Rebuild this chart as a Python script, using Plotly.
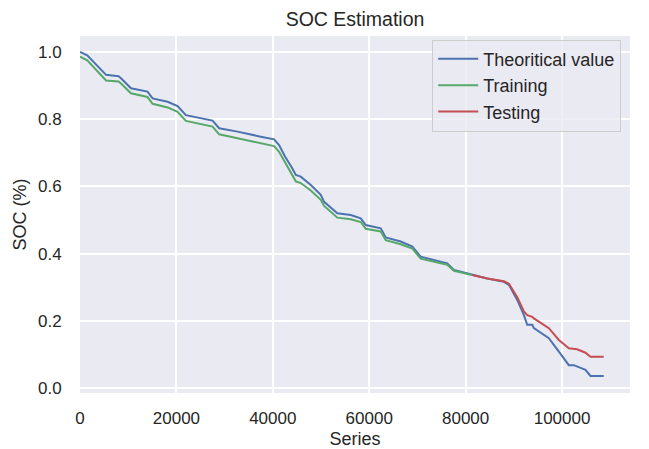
import plotly.graph_objects as go

# Theoretical value (blue)
theo_x = [0, 1500, 5400, 8000, 8500, 9500, 10570, 14000, 15070, 18180, 20250, 21970,
          25080, 27500, 28870, 32680, 37500, 40270, 41300, 42500, 44000, 44770, 45800,
          47880, 49950, 50640, 53400, 56170, 58240, 59280, 62390, 63420, 66530, 68950,
          70670, 76200, 77580, 81380, 84490, 87940, 88980, 90710, 92090, 92780, 93820,
          94160, 97270, 99340, 101410, 102450, 104870, 105900, 108660]
theo_y = [1.000, 0.990, 0.932, 0.928, 0.922, 0.907, 0.892, 0.882, 0.862, 0.852, 0.839, 0.812,
          0.803, 0.796, 0.773, 0.763, 0.748, 0.740, 0.723, 0.690, 0.655, 0.634, 0.629,
          0.604, 0.575, 0.554, 0.520, 0.515, 0.505, 0.485, 0.475, 0.448, 0.436, 0.421,
          0.391, 0.371, 0.351, 0.336, 0.326, 0.316, 0.307, 0.262, 0.217, 0.188, 0.188,
          0.178, 0.148, 0.108, 0.068, 0.068, 0.054, 0.036, 0.036]

# Training (green)
train_x = [0, 1500, 5400, 8000, 8500, 9500, 10570, 14000, 15070, 18180, 20250, 21970,
           25080, 27500, 28870, 32680, 37500, 40270, 41300, 42500, 44000, 44770, 45800,
           47880, 49950, 50640, 53400, 56170, 58240, 59280, 62390, 63420, 66530, 68950,
           70670, 76200, 77580, 81380]
train_y = [0.986, 0.975, 0.915, 0.912, 0.906, 0.892, 0.877, 0.866, 0.846, 0.835, 0.822, 0.795,
           0.785, 0.778, 0.755, 0.744, 0.728, 0.720, 0.703, 0.672, 0.636, 0.615, 0.610,
           0.588, 0.560, 0.542, 0.507, 0.502, 0.494, 0.474, 0.466, 0.440, 0.428, 0.415,
           0.385, 0.367, 0.349, 0.336]

# Testing (red)
test_x = [81380, 84490, 87940, 88980, 90710, 92090, 92780, 93820, 94160, 97270, 99340,
          101410, 103130, 104870, 105900, 108660]
test_y = [0.336, 0.326, 0.318, 0.310, 0.270, 0.228, 0.217, 0.212, 0.207, 0.178, 0.143,
          0.118, 0.115, 0.105, 0.093, 0.093]

x_ticks = [0, 20000, 40000, 60000, 80000, 100000]
y_ticks = [0.0, 0.2, 0.4, 0.6, 0.8, 1.0]

FONT = "Liberation Sans, Arial, sans-serif"
TXT = "#262626"

fig = go.Figure()
fig.add_trace(go.Scatter(x=theo_x, y=theo_y, mode="lines", name="Theoritical value",
                         line=dict(color="#4C72B0", width=2)))
fig.add_trace(go.Scatter(x=train_x, y=train_y, mode="lines", name="Training",
                         line=dict(color="#55A868", width=2)))
fig.add_trace(go.Scatter(x=test_x, y=test_y, mode="lines", name="Testing",
                         line=dict(color="#C44E52", width=2)))

# page body has an 8px margin, so the figure is 8px smaller and margins shifted
fig.update_layout(
    width=641, height=441,
    margin=dict(l=72, r=19, t=28, b=56),
    paper_bgcolor="white",
    plot_bgcolor="#EAEAF2",
    font=dict(family=FONT, size=17, color=TXT),
    title=dict(text="SOC Estimation", x=0.5, xref="paper", y=1 - 4 / 441,
               yref="container", xanchor="center", yanchor="top",
               pad=dict(t=0, b=0, l=0, r=0),
               font=dict(size=19.5, color=TXT), automargin=False),
    showlegend=True,
    legend=dict(x=0.984, y=0.99, xanchor="right", yanchor="top",
                bgcolor="rgba(234,234,242,0.8)", bordercolor="#CCCCCC", borderwidth=1,
                itemwidth=40,
                font=dict(size=18, color=TXT)),
    xaxis=dict(range=[0, 114100], tickvals=x_ticks, ticktext=[str(v) for v in x_ticks],
               showgrid=True, gridcolor="white", gridwidth=1.5, zeroline=False,
               ticks="outside", ticklen=10, tickcolor="rgba(0,0,0,0)",
               automargin=False,
               title=dict(text="Series", font=dict(size=18, color=TXT), standoff=11),
               showline=False),
    yaxis=dict(range=[-0.0149, 1.0476], tickvals=y_ticks,
               ticktext=["%.1f" % v for v in y_ticks],
               showgrid=True, gridcolor="white", gridwidth=1.5, zeroline=False,
               ticks="outside", ticklen=14, tickcolor="rgba(0,0,0,0)",
               automargin=False,
               title=dict(text="SOC (%)", font=dict(size=18, color=TXT), standoff=6),
               showline=False),
)

fig.write_html("out.html")
